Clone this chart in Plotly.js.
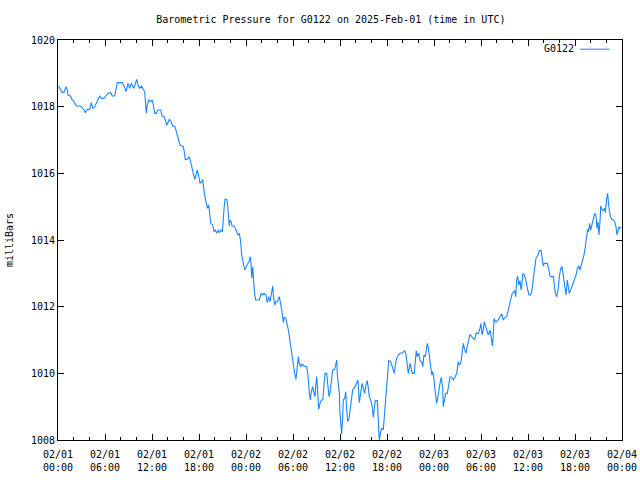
<!DOCTYPE html>
<html>
<head>
<meta charset="utf-8">
<script src="https://cdn.plot.ly/plotly-3.0.1.min.js"></script>
<style>html,body{margin:0;padding:0;background:#fff;}#chart{width:640px;height:480px;}</style>
</head>
<body>
<div id="chart"></div>
<script>
// minutes after 2025-02-01 00:00 UTC
const minutes = [5,25,31,46,61,71,77,94,107,123,133,140,166,178,199,209,224,243,255,266,281,301,319,332,352,365,383,404,416,434,447,454,490,506,521,536,549,561,580,592,603,613,626,638,651,664,676,684,695,710,720,728,741,753,764,
787,797,812,822,833,845,853,866,879,896,909,922,934,950,960,967,975,990,1006,1016,1026,1036,1049,1057,1067,1078,1088,1101,1108,1121,1134,1144,1154,1159,1170,1185,1195,1205,1216,1228,1236,1249,1259,1272,1279,1292,1300,1308,1312,1317,1327,1333,1348,1358,1369,1379,1389,1399,
1407,1419,1430,1440,1455,1465,1471,1478,1484,1491,1496,1504,1514,1542,1555,1568,1578,1593,1603,1614,1624,1637,1645,1649,1660,1670,1680,1695,1706,1716,1726,1733,1746,1756,1767,1777,1787,1795,1802,1813,1823,1833,1841,1848,1859,1869,1884,1905,1915,1925,1933,1940,1951,1961,1969,1976,1982,1989,1997,2007,2017,2028,2037,2045,2058,2068,2076,2083,
2096,2104,2119,2127,2135,2139,2147,2155,2160,2165,2173,2181,2185,2196,2204,2211,2219,2229,2237,2247,2257,2275,2288,2298,2308,2319,2329,2339,2349,2359,2369,2377,2385,2395,2405,2415,2423,2430,2446,2453,2461,2472,2479,2492,2499,2507,2518,2525,2533,2548,2558,2568,2576,2584,2594,2607,2620,2640,2656,2666,2676,2683,2696,2706,2714,2729,2737,2744,2752,2763,2773,
2786,2794,2803,2813,2819,2829,2837,2844,2855,2863,2870,2878,2885,2893,2901,2908,2916,2926,2936,2947,2951,2962,2970,2982,2993,3003,3016,3028,3041,3054,3066,3074,3085,3095,3105,3112,3125,3135,3146,3156,3169,3181,3192,3202,3219,3232,3240,3248,3258,3265,3273,3284,3296,3309,3319,3327,3334,3340,3350,3360,3373,3386,3399,3411,3424,3437,3447,3457,3468,3478,3488,3498,3506,3513,3521,3529,3539,
3547,3554,3562,3572,3582,3595,3608,3621,3631,3641,3651,3661,3677,3687,3700,3710,3717,3725,3738,3748,3759,3769,3782,3794,3802,3809,3820,3830,3840,3851,3861,3871,3881,3891,3901,3909,3916,3927,3937,3947,3958,3968,3978,3988,3998,4008,4019,4029,4039,4050,4057,4065,4072,4080,4090,4100,4111,4121,4128,4136,4144,4152,4157,4167,4177,4188,4192,4203,4210,4218,4228,4241,4254,4264,4274,4282,4290,4297,4305,4310];

const pressure = [1018.62,1018.50,1018.43,1018.43,1018.60,1018.50,1018.35,1018.32,1018.22,1018.15,1018.08,1018.02,1018.02,1018.00,1017.90,1017.82,1017.92,1017.92,1018.12,1017.95,1018.00,1018.20,1018.32,1018.25,1018.25,1018.32,1018.40,1018.42,1018.32,1018.32,1018.58,1018.72,1018.72,1018.62,1018.45,1018.70,1018.55,1018.70,1018.55,1018.72,1018.82,1018.65,1018.55,1018.62,1018.52,1018.45,1017.80,1018.05,1018.20,1018.15,1018.20,1018.10,1017.80,1017.80,1017.90,
1017.90,1017.72,1017.70,1017.60,1017.44,1017.55,1017.62,1017.55,1017.42,1017.40,1017.20,1016.95,1016.85,1016.82,1016.80,1016.65,1016.42,1016.42,1016.50,1016.35,1016.15,1016.00,1015.82,1015.95,1016.10,1015.92,1015.70,1015.75,1015.82,1015.40,1015.10,1014.95,1015.05,1014.90,1014.50,1014.45,1014.25,1014.30,1014.20,1014.30,1014.22,1014.30,1014.25,1014.95,1015.22,1015.22,1015.02,1014.62,1014.42,1014.60,1014.55,1014.42,1014.42,1014.35,1014.22,1014.15,1014.20,1013.95,
1013.55,1013.25,1013.10,1013.18,1013.30,1013.38,1013.50,1013.30,1012.85,1013.20,1012.95,1012.45,1012.20,1012.20,1012.40,1012.35,1012.40,1012.35,1012.12,1012.30,1012.15,1012.40,1012.62,1012.35,1012.05,1012.15,1012.15,1012.30,1012.10,1011.85,1011.52,1011.68,1011.65,1011.50,1011.25,1010.95,1010.70,1010.45,1010.20,1010.00,1009.82,1010.30,1010.50,1010.30,1010.20,1010.28,1010.22,1010.20,1009.95,1009.40,1009.20,1009.45,1009.60,1009.40,1009.30,1009.70,1009.90,1009.45,1008.92,1009.10,1009.20,1009.20,1009.60,1010.00,1010.00,1009.50,1009.30,1009.40,
1009.95,1010.10,1010.12,1010.30,1010.40,1010.00,1009.62,1009.40,1008.80,1008.55,1008.18,1008.70,1009.20,1009.25,1009.45,1008.90,1008.55,1008.65,1008.90,1009.25,1009.50,1009.60,1009.70,1009.80,1009.12,1009.40,1009.70,1009.55,1009.40,1009.65,1009.78,1009.55,1009.30,1009.20,1009.05,1008.68,1008.90,1009.18,1009.18,1008.65,1008.00,1008.25,1008.35,1008.32,1008.70,1009.20,1009.55,1010.00,1010.38,1010.35,1010.22,1010.10,1010.00,1010.25,1010.45,1010.55,1010.60,1010.62,1010.68,1010.55,1010.30,1010.00,1010.30,1010.15,1010.00,1010.00,1010.35,1010.68,1010.50,1010.60,1010.38,
1010.35,1010.20,1010.55,1010.50,1010.70,1010.90,1010.75,1010.50,1010.20,1009.95,1010.05,1009.90,1009.60,1009.30,1009.10,1009.25,1009.50,1009.70,1009.88,1009.55,1009.00,1009.20,1009.40,1009.40,1009.75,1009.90,1009.88,1009.80,1009.88,1010.00,1010.35,1010.25,1010.30,1010.65,1010.90,1010.75,1010.60,1010.82,1011.00,1011.17,1011.10,1011.05,1011.00,1011.20,1011.20,1011.35,1011.50,1011.15,1011.32,1011.55,1011.42,1011.30,1011.15,1011.30,1011.05,1010.82,1011.15,1011.65,1011.55,1011.55,1011.62,1011.72,1011.78,1011.60,1011.68,1011.70,1011.90,1012.10,1012.22,1012.38,1012.45,1012.48,1012.30,1012.80,1012.92,1012.65,1012.78,
1012.50,1012.70,1013.00,1012.95,1012.82,1012.55,1012.35,1012.35,1012.50,1012.85,1013.20,1013.45,1013.55,1013.68,1013.68,1013.35,1013.22,1013.30,1013.30,1013.30,1013.12,1012.92,1012.90,1012.90,1012.65,1012.40,1012.30,1012.50,1012.90,1013.15,1013.20,1012.95,1012.60,1012.35,1012.80,1012.60,1012.40,1012.50,1012.60,1012.70,1012.80,1012.95,1013.15,1013.22,1013.10,1013.25,1013.40,1013.55,1013.80,1014.05,1014.32,1014.25,1014.50,1014.30,1014.45,1014.60,1014.80,1014.72,1014.35,1014.55,1014.15,1014.60,1015.02,1014.92,1014.88,1014.95,1014.82,1015.25,1015.40,1015.05,1014.75,1014.62,1014.60,1014.55,1014.40,1014.15,1014.30,1014.40,1014.35,1014.38];

const seriesName = "G0122";
const titleText = "Barometric Pressure for G0122 on 2025-Feb-01 (time in UTC)";
const yLabel = "milliBars";
const startTime = "2025-02-01T00:00:00Z";
const endTime = "2025-02-04 00:00";

const base = Date.parse(startTime);
const times = minutes.map(m => new Date(base + m * 60000).toISOString().slice(0, 16).replace("T", " "));

const lineColor = "#1a86ff";
const font = {family: "DejaVu Sans Mono, Liberation Mono, monospace", size: 10, color: "#000"};

const trace = {
  x: times, y: pressure, type: "scatter", mode: "lines", name: seriesName,
  line: {color: lineColor, width: 1.1, shape: "linear"}
};

const layout = {
  width: 640, height: 480,
  margin: {l: 58, r: 18, t: 40, b: 40, pad: 0},
  paper_bgcolor: "#fff", plot_bgcolor: "#fff",
  font: font,
  showlegend: false,
  title: {text: titleText, font: font, x: 0.517, xanchor: "center", y: 0.96, yanchor: "middle", xref: "container"},
  xaxis: {
    type: "date", range: ["2025-02-01 00:00", endTime],
    tickformat: "%m/%d<br>%H:%M", dtick: 21600000, tick0: "2025-02-01 00:00",
    ticks: "inside", ticklen: 6, tickwidth: 1, tickcolor: "#000",
    minor: {dtick: 7200000, ticks: "inside", ticklen: 3, tickcolor: "#000", tickwidth: 1},
    showline: true, linecolor: "#000", linewidth: 1, mirror: "ticks",
    showgrid: false, zeroline: false, tickfont: font, ticklabelstandoff: 5
  },
  yaxis: {
    range: [1008, 1020], dtick: 2, tick0: 1008,
    ticks: "inside", ticklen: 6, tickwidth: 1, tickcolor: "#000",
    showline: true, linecolor: "#000", linewidth: 1, mirror: "ticks",
    showgrid: false, zeroline: false, tickfont: font,
    title: {text: yLabel, font: font, standoff: 15}
  },
  annotations: [{
    text: seriesName, xref: "paper", yref: "paper", x: 0.918, y: 0.979,
    xanchor: "right", yanchor: "middle", showarrow: false, font: font
  }],
  shapes: [{
    type: "line", xref: "paper", yref: "paper", x0: 0.926, x1: 0.978, y0: 0.977, y1: 0.977,
    line: {color: lineColor, width: 1}
  }]
};

Plotly.newPlot("chart", [trace], layout, {staticPlot: true, displayModeBar: false});
</script>
</body>
</html>
